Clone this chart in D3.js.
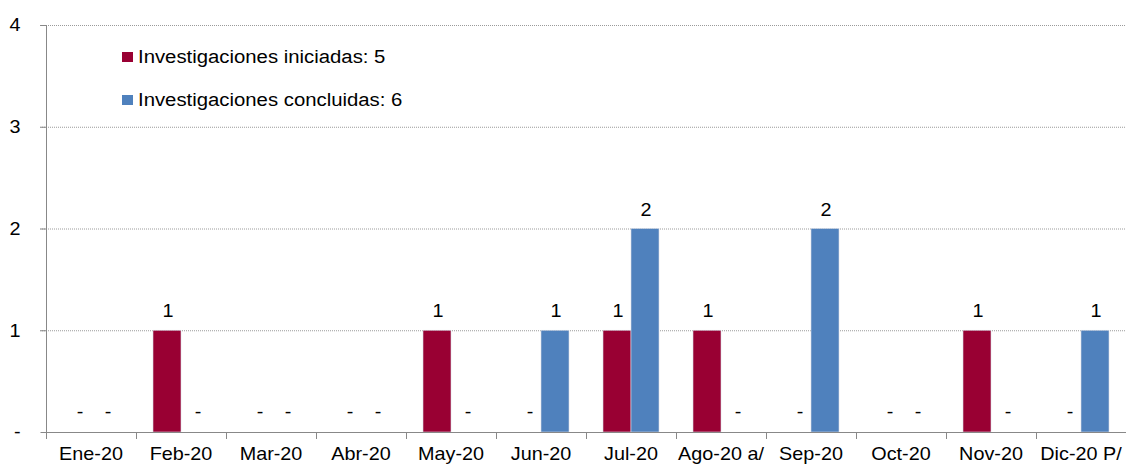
<!DOCTYPE html>
<html>
<head>
<meta charset="utf-8">
<script src="https://cdn.jsdelivr.net/npm/d3@7"></script>
<style>
  html, body { margin: 0; padding: 0; background: #fff; }
  svg { display: block; font-family: "Liberation Sans", Arial, sans-serif; }
</style>
</head>
<body>
<svg id="chart" width="1126" height="464"></svg>
<script>
// monthly investigations, 2020
const MONTHS = ["Ene-20","Feb-20","Mar-20","Abr-20","May-20","Jun-20","Jul-20","Ago-20 a/","Sep-20","Oct-20","Nov-20","Dic-20 P/"];
const INICIADAS  = [0,1,0,0,1,0,1,1,0,0,1,0];
const CONCLUIDAS = [0,0,0,0,0,1,2,0,2,0,0,1];
const SERIES_NAMES = ["Investigaciones iniciadas: 5","Investigaciones concluidas: 6"];
const Y_TICKS = [0,1,2,3,4];

const COLORS = ["#990033","#4F81BD"];
const W = 1126, H = 464;
const m = {left:46, right:0, top:25, bottom:32};
const FS = 18, SX = 1.1;   // reference text is a bit wide -> stretch horizontally

const svg = d3.select("#chart");

const x = d3.scaleBand().domain(MONTHS).range([m.left, W - m.right]);
const y = d3.scaleLinear().domain([0,4]).range([H - m.bottom, m.top]);
const BAR = 28;
const sub = d3.scaleBand().domain([0,1]).range([-BAR, BAR]);

// text drawn at (tx,ty) and stretched in x around its anchor
function label(g, tx, ty, str, anchor="middle", sx=SX){
  return g.append("text")
    .attr("transform", `translate(${tx},${ty}) scale(${sx},1)`)
    .attr("text-anchor", anchor).attr("font-size", FS).attr("fill", "#000")
    .text(str);
}

// gridlines (dotted)
svg.append("g").selectAll("line").data(Y_TICKS.filter(d=>d>0)).join("line")
  .attr("x1", m.left - 6).attr("x2", W)
  .attr("y1", d=>y(d)+0.5).attr("y2", d=>y(d)+0.5)
  .attr("stroke", "#9a9a9a").attr("stroke-width", 1).attr("stroke-dasharray", "1,1");

// bars + data labels (zero shown as "-")
const rows = MONTHS.map((mo,i)=>({mo, vals:[INICIADAS[i], CONCLUIDAS[i]]}));
const gBars = svg.append("g");
rows.forEach(r=>{
  const cx = x(r.mo) + x.bandwidth()/2;
  r.vals.forEach((v,s)=>{
    const bx = cx + sub(s);
    if (v > 0){
      gBars.append("rect")
        .attr("x", bx).attr("width", BAR)
        .attr("y", y(v)).attr("height", y(0) - y(v))
        .attr("fill", COLORS[s])
        .attr("stroke", "#d9dde6").attr("stroke-width", 0.6);
      label(gBars, bx + BAR/2 + 1, y(v) - 13, v);
    } else {
      label(gBars, bx + BAR/2 + 3, y(0) - 14, "-");
    }
  });
});

// y axis
const yAxis = svg.append("g").attr("transform", `translate(${m.left + 0.5},0)`)
  .call(d3.axisLeft(y).tickValues(Y_TICKS).tickSize(6).tickPadding(20)
        .tickFormat(d=> d===0 ? "-" : d3.format("d")(d)));
yAxis.select(".domain").attr("stroke","#888").attr("d", `M-6,${y(4)+0.5}H0V${y(0)+0.5}`);
yAxis.selectAll(".tick line").attr("stroke","#888");
yAxis.selectAll(".tick text").attr("font-size", FS).attr("fill","#000")
  .attr("font-family","Liberation Sans, Arial, sans-serif")
  .attr("x", -26/SX).attr("transform", `scale(${SX},1)`);

// x axis
const xAxis = svg.append("g").attr("transform", `translate(0,${y(0)+0.5})`)
  .call(d3.axisBottom(x).tickSize(0).tickPadding(15));
xAxis.select(".domain").attr("stroke","#888").attr("d", `M${m.left},0H${W}`);
xAxis.selectAll(".tick text").attr("font-size", FS).attr("fill","#000")
  .attr("font-family","Liberation Sans, Arial, sans-serif")
  .attr("transform", `scale(${SX},1)`);
// category boundary ticks
svg.append("g").selectAll("line").data(MONTHS).join("line")
  .attr("x1", d=>Math.round(x(d))+0.5).attr("x2", d=>Math.round(x(d))+0.5)
  .attr("y1", y(0)).attr("y2", y(0)+7)
  .attr("stroke","#888");

// legend
const leg = svg.append("g").attr("transform","translate(122,52)");
SERIES_NAMES.forEach((name,i)=>{
  const g = leg.append("g").attr("transform", `translate(0,${i*43})`);
  g.append("rect").attr("width", 11).attr("height", 10).attr("fill", COLORS[i]);
  label(g, 16, 11, name, "start", 1.13);
});
</script>
</body>
</html>
